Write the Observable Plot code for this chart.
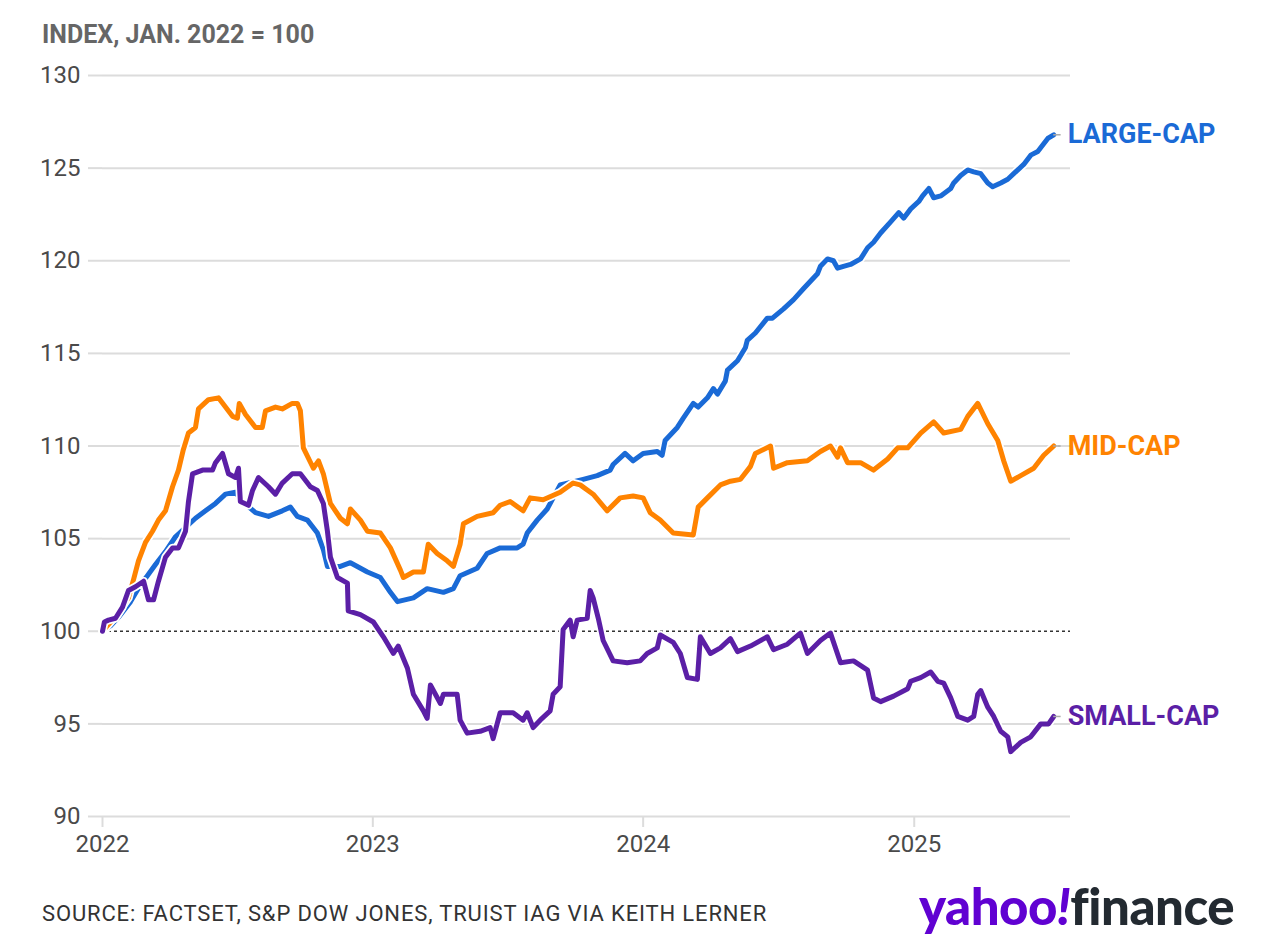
<!DOCTYPE html>
<html>
<head>
<meta charset="utf-8">
<script src="https://cdn.jsdelivr.net/npm/d3@7"></script>
<script src="https://cdn.jsdelivr.net/npm/@observablehq/plot@0.6"></script>
<style>
  html, body { margin: 0; padding: 0; background: #fff; }
  #wrap { position: relative; width: 1283px; height: 949px; overflow: hidden; font-family: Roboto, "Noto Sans", sans-serif; }
  #title { position: absolute; left: 42px; top: 22px; font-size: 25px; line-height: 25px; font-weight: 700; color: #666; white-space: nowrap; }
  #chart { position: absolute; left: 0; top: 55px; }
  #source { position: absolute; left: 42px; top: 903px; font-size: 22px; line-height: 22px; letter-spacing: 0.85px; color: #333; white-space: nowrap; }
  #logo { position: absolute; left: 919px; top: 882px; font-family: Lato, "Open Sans", sans-serif; font-weight: 900; font-size: 51px; line-height: 48px; letter-spacing: -0.5px; white-space: nowrap; }
  #logo .y { color: #6001d2; }
  #logo .f { color: #232a31; }
</style>
</head>
<body>
<div id="wrap">
  <div id="title">INDEX, JAN. 2022 = 100</div>
  <div id="chart"></div>
  <div id="source">SOURCE: FACTSET, S&amp;P DOW JONES, TRUIST IAG VIA KEITH LERNER</div>
  <div id="logo"><span class="y">yahoo<i>!</i></span><span class="f">finance</span></div>
</div>
<script>
// ---- Data (x as decimal years) ----
const largeT = [2022.000,2022.030,2022.059,2022.104,2022.140,2022.166,2022.196,2022.233,2022.270,2022.307,2022.344,2022.381,2022.418,2022.455,2022.492,2022.518,2022.566,2022.614,2022.665,2022.695,2022.721,2022.758,2022.795,2022.817,2022.832,2022.880,2022.917,2022.980,2023.028,2023.065,2023.091,2023.150,2023.201,2023.261,2023.298,2023.323,2023.386,2023.423,2023.471,2023.534,2023.556,2023.571,2023.608,2023.645,2023.693,2023.778,2023.830,2023.878,2023.889,2023.933,2023.963,2024.000,2024.052,2024.070,2024.081,2024.126,2024.148,2024.185,2024.203,2024.237,2024.259,2024.274,2024.303,2024.311,2024.348,2024.377,2024.384,2024.414,2024.458,2024.477,2024.518,2024.555,2024.592,2024.643,2024.654,2024.680,2024.702,2024.717,2024.739,2024.765,2024.802,2024.828,2024.850,2024.876,2024.913,2024.943,2024.961,2024.987,2025.017,2025.031,2025.054,2025.072,2025.098,2025.135,2025.146,2025.172,2025.198,2025.220,2025.246,2025.272,2025.290,2025.320,2025.346,2025.368,2025.405,2025.431,2025.457,2025.494,2025.516];
const largeV = [100.0,100.3,100.75,101.6,102.5,103.0,103.6,104.3,105.1,105.6,106.1,106.5,106.9,107.4,107.5,107.0,106.4,106.2,106.5,106.7,106.2,106.0,105.3,104.4,103.5,103.5,103.7,103.2,102.9,102.1,101.6,101.8,102.3,102.1,102.3,103.0,103.4,104.2,104.5,104.5,104.7,105.3,106.0,106.6,107.9,108.2,108.4,108.7,109.0,109.6,109.2,109.6,109.7,109.5,110.3,111.0,111.5,112.3,112.1,112.6,113.1,112.8,113.5,114.1,114.6,115.3,115.7,116.1,116.9,116.9,117.4,117.9,118.5,119.3,119.7,120.1,120.0,119.6,119.7,119.8,120.1,120.7,121.0,121.5,122.1,122.6,122.3,122.8,123.2,123.5,123.9,123.4,123.5,123.9,124.2,124.6,124.9,124.8,124.7,124.2,124.0,124.2,124.4,124.7,125.2,125.7,125.9,126.6,126.8];

const midT = [2022.000,2022.048,2022.096,2022.115,2022.133,2022.159,2022.185,2022.207,2022.233,2022.259,2022.281,2022.299,2022.318,2022.344,2022.355,2022.392,2022.429,2022.455,2022.481,2022.499,2022.506,2022.529,2022.566,2022.591,2022.603,2022.640,2022.665,2022.702,2022.721,2022.732,2022.743,2022.780,2022.799,2022.817,2022.843,2022.880,2022.906,2022.917,2022.954,2022.980,2023.028,2023.065,2023.102,2023.113,2023.150,2023.187,2023.205,2023.238,2023.275,2023.298,2023.323,2023.335,2023.386,2023.445,2023.471,2023.508,2023.556,2023.582,2023.630,2023.693,2023.741,2023.767,2023.815,2023.867,2023.915,2023.963,2024.000,2024.026,2024.063,2024.111,2024.185,2024.203,2024.237,2024.285,2024.322,2024.359,2024.396,2024.414,2024.470,2024.481,2024.532,2024.606,2024.654,2024.691,2024.717,2024.728,2024.754,2024.802,2024.850,2024.902,2024.939,2024.976,2025.024,2025.072,2025.109,2025.172,2025.198,2025.235,2025.272,2025.309,2025.331,2025.357,2025.394,2025.442,2025.479,2025.516];
const midV = [100.0,100.8,101.8,102.8,103.8,104.8,105.4,106.0,106.5,107.8,108.7,109.8,110.7,111.0,112.0,112.5,112.6,112.1,111.6,111.5,112.3,111.7,111.0,111.0,111.9,112.1,112.0,112.3,112.3,111.9,109.9,108.8,109.2,108.5,106.9,106.1,105.8,106.6,106.0,105.4,105.3,104.5,103.3,102.9,103.2,103.2,104.7,104.2,103.8,103.5,104.7,105.8,106.2,106.4,106.8,107.0,106.5,107.2,107.1,107.5,108.0,107.9,107.4,106.5,107.2,107.3,107.2,106.4,106.0,105.3,105.2,106.7,107.2,107.9,108.1,108.2,108.9,109.6,110.0,108.8,109.1,109.2,109.7,110.0,109.4,109.9,109.1,109.1,108.7,109.3,109.9,109.9,110.7,111.3,110.7,110.9,111.6,112.3,111.2,110.3,109.2,108.1,108.4,108.8,109.5,110.0];

const smallT = [2022.000,2022.007,2022.022,2022.048,2022.074,2022.096,2022.122,2022.152,2022.170,2022.189,2022.207,2022.233,2022.259,2022.281,2022.307,2022.318,2022.333,2022.370,2022.407,2022.418,2022.444,2022.466,2022.492,2022.503,2022.510,2022.540,2022.555,2022.577,2022.614,2022.640,2022.665,2022.702,2022.732,2022.769,2022.795,2022.817,2022.832,2022.843,2022.869,2022.906,2022.909,2022.954,2023.002,2023.039,2023.076,2023.094,2023.128,2023.150,2023.187,2023.201,2023.213,2023.250,2023.261,2023.312,2023.323,2023.349,2023.397,2023.434,2023.445,2023.471,2023.519,2023.556,2023.571,2023.593,2023.619,2023.656,2023.667,2023.693,2023.704,2023.730,2023.741,2023.756,2023.793,2023.804,2023.815,2023.834,2023.852,2023.889,2023.941,2023.989,2024.015,2024.052,2024.063,2024.111,2024.137,2024.163,2024.200,2024.211,2024.248,2024.285,2024.322,2024.348,2024.396,2024.458,2024.481,2024.532,2024.580,2024.606,2024.654,2024.691,2024.728,2024.776,2024.828,2024.850,2024.876,2024.924,2024.976,2024.987,2025.024,2025.061,2025.087,2025.109,2025.135,2025.161,2025.198,2025.220,2025.235,2025.246,2025.272,2025.294,2025.320,2025.346,2025.357,2025.394,2025.431,2025.468,2025.497,2025.516];
const smallV = [100.0,100.5,100.6,100.7,101.3,102.2,102.4,102.7,101.7,101.7,102.7,104.0,104.5,104.5,105.4,107.0,108.5,108.7,108.7,109.1,109.6,108.5,108.3,108.8,107.0,106.8,107.6,108.3,107.8,107.4,108.0,108.5,108.5,107.8,107.6,106.9,105.4,104.0,102.9,102.6,101.1,100.9,100.5,99.7,98.8,99.2,98.0,96.6,95.7,95.3,97.1,96.1,96.6,96.6,95.2,94.5,94.6,94.8,94.2,95.6,95.6,95.2,95.6,94.8,95.2,95.7,96.6,97.0,100.1,100.6,99.7,100.6,100.7,102.2,101.8,100.7,99.5,98.4,98.3,98.4,98.8,99.1,99.8,99.4,98.8,97.5,97.4,99.7,98.8,99.1,99.6,98.9,99.2,99.7,99.0,99.3,99.9,98.8,99.5,99.9,98.3,98.4,97.9,96.4,96.2,96.5,96.9,97.3,97.5,97.8,97.3,97.2,96.4,95.4,95.2,95.4,96.6,96.8,95.9,95.4,94.6,94.3,93.5,94.0,94.3,95.0,95.0,95.4];

const seriesNames = ["LARGE-CAP", "MID-CAP", "SMALL-CAP"];
const seriesColors = ["#1a6ad6", "#ff8300", "#5b1fa6"];
const yTicks = [90, 95, 100, 105, 110, 115, 120, 125, 130];
const xTickYears = [2022, 2023, 2024, 2025];

// ---- Build tables ----
const toDate = y => {
  const yr = Math.floor(y);
  const a = Date.UTC(yr, 0, 1), b = Date.UTC(yr + 1, 0, 1);
  return new Date(a + (y - yr) * (b - a));
};
const mk = (T, V, name) => T.map((t, i) => ({date: toDate(t), value: V[i], name}));
const series = [mk(largeT, largeV, seriesNames[0]), mk(midT, midV, seriesNames[1]), mk(smallT, smallV, seriesNames[2])];
const lastPts = series.map(s => s[s.length - 1]);
const xTicks = xTickYears.map(y => new Date(Date.UTC(y, 0, 1)));

const lineMarks = [];
series.forEach((s, i) => {
  lineMarks.push(Plot.line(s, {x: "date", y: "value", stroke: "white", strokeWidth: 8.5, strokeLinejoin: "round", strokeLinecap: "round"}));
  lineMarks.push(Plot.line(s, {x: "date", y: "value", stroke: seriesColors[i], strokeWidth: 5, strokeLinejoin: "round", strokeLinecap: "round"}));
});

const chart = Plot.plot({
  width: 1283,
  height: 815,
  marginLeft: 102,
  marginRight: 213,
  marginTop: 20,
  marginBottom: 54,
  x: {type: "utc", domain: [new Date(Date.UTC(2022, 0, 1)), new Date(Date.UTC(2025, 6, 31))]},
  y: {domain: [90, 130]},
  style: {fontFamily: "Roboto, 'Noto Sans', sans-serif", background: "white", overflow: "visible"},
  marks: [
    Plot.gridY(yTicks.filter(t => t !== 100), {stroke: "#dcdcdc", strokeOpacity: 1, strokeWidth: 2}),
    Plot.axisY(yTicks, {tickSize: 14, tickPadding: 8, stroke: "#dcdcdc", strokeWidth: 2, fill: "#4a4a4a", fontSize: 24, label: null}),
    Plot.axisX(xTicks, {tickSize: 11, tickPadding: 7, stroke: "#dcdcdc", strokeWidth: 2, fill: "#4a4a4a", fontSize: 24, tickFormat: d3.utcFormat("%Y"), label: null}),
    Plot.ruleY([100], {stroke: "#333", strokeDasharray: "3,3", strokeWidth: 1.3}),
    ...lineMarks,
    Plot.ruleY(lastPts, {y: "value", x1: "date", x2: d => new Date(+d.date + 10 * 864e5), stroke: "#aaa", strokeWidth: 1.5}),
    Plot.text(lastPts, {x: "date", y: "value", text: "name", dx: 14, textAnchor: "start", fontSize: 27, fontWeight: 700, fill: (d) => seriesColors[seriesNames.indexOf(d.name)]})
  ]
});
document.getElementById("chart").appendChild(chart);
</script>
</body>
</html>
